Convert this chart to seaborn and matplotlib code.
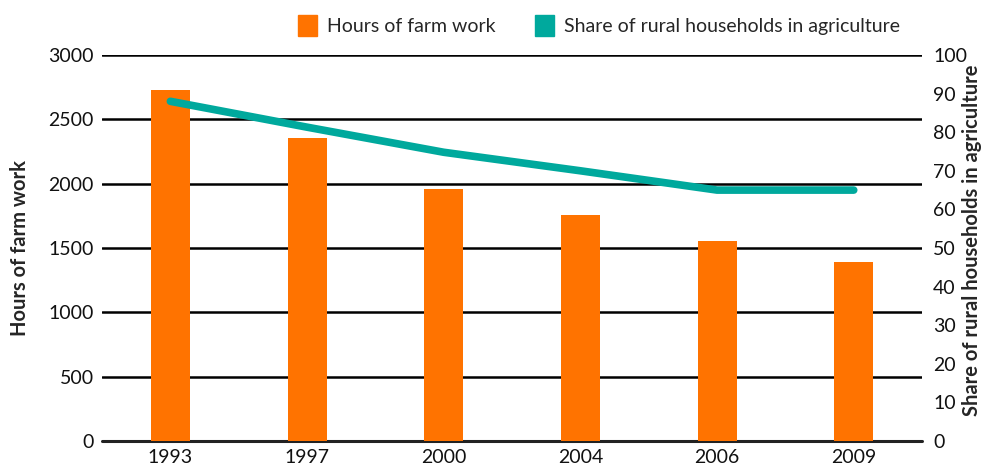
import seaborn as sns
import matplotlib.pyplot as plt
import pandas as pd

years = ["1993", "1997", "2000", "2004", "2006", "2009"]
hours = [2725, 2355, 1955, 1755, 1555, 1390]
share = [88, 81.3, 74.8, 70, 65, 65]

orange = "#FF7300"
teal = "#00A99D"

sns.set_style("white")
plt.rcParams["font.family"] = ["Lato", "DejaVu Sans"]

df = pd.DataFrame({"year": years, "hours": hours, "share": share})

fig = plt.figure(figsize=(9.85, 4.68), dpi=100)
ax = fig.add_axes([0.1036, 0.0577, 0.8325, 0.8248])

sns.barplot(data=df, x="year", y="hours", color=orange, width=0.285,
            saturation=1, linewidth=0, ax=ax, zorder=3)
ax.set_ylim(0, 3000)
ax.set_yticks(range(0, 3001, 500))
ax.set_xlim(-0.5, 5.5)
ax.yaxis.grid(True, color="black", linewidth=1.8, zorder=0)
ax.axhline(0, color="#222222", linewidth=2.2, clip_on=False, zorder=1)
ax.set_axisbelow(True)
for s in ax.spines.values():
    s.set_visible(False)
ax.tick_params(axis="both", length=0, labelsize=14, pad=6, labelcolor="#111111")
ax.set_xlabel("")
ax.set_ylabel("Hours of farm work", fontsize=14.5, fontweight="bold")
ax.yaxis.set_label_coords(-0.088, 0.5)

ax2 = ax.twinx()
sns.lineplot(data=df, x="year", y="share", color=teal, linewidth=5.5,
             solid_capstyle="round", ax=ax2, zorder=4)
ax2.set_ylim(0, 100)
ax2.set_yticks(range(0, 101, 10))
for s in ax2.spines.values():
    s.set_visible(False)
ax2.tick_params(axis="y", length=0, labelsize=14, pad=8, labelcolor="#111111")
ax2.set_ylabel("Share of rural households in agriculture", fontsize=14.5,
               fontweight="bold")
ax2.yaxis.set_label_coords(1.049, 0.52)
ax2.set_xlim(-0.5, 5.5)

handles = [plt.Rectangle((0, 0), 1, 1, color=orange),
           plt.Rectangle((0, 0), 1, 1, color=teal)]
fig.legend(handles, ["Hours of farm work", "Share of rural households in agriculture"],
           loc="center", bbox_to_anchor=(0.608, 0.945), ncol=2, frameon=False,
           fontsize=14, handlelength=1.0, handleheight=1.3, handletextpad=0.5,
           columnspacing=2.0)

fig.savefig("out.png", dpi=100)
